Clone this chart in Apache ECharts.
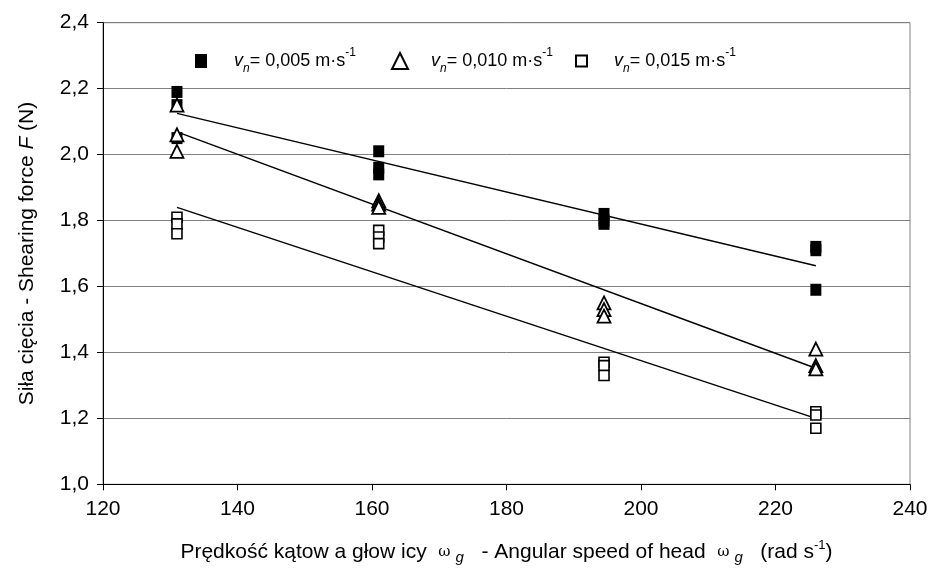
<!DOCTYPE html>
<html><head><meta charset="utf-8">
<script src="https://cdn.jsdelivr.net/npm/echarts@6/dist/echarts.min.js"></script>
<style>html,body{margin:0;padding:0;background:#fff}#c{width:932px;height:574px}</style>
</head><body><div id="c"></div>
<script>
// ---- data ----
const seriesNames = ['v005', 'v010', 'v015'];
const xValues = [131,131,131, 161,161,161, 194.5,194.5,194.5, 226,226,226];
const filledY = [2.19,2.15,2.05, 2.01,1.96,1.94, 1.82,1.80,1.79, 1.72,1.71,1.59];
const triY    = [2.15,2.06,2.01, 1.86,1.85,1.84, 1.55,1.53,1.51, 1.41,1.36,1.35];
const openY   = [1.81,1.79,1.76, 1.77,1.75,1.73, 1.37,1.36,1.33, 1.22,1.21,1.17];
const trendX = [131, 226];
const trendFilled = [2.125, 1.663];
const trendTri    = [2.069, 1.352];
const trendOpen   = [1.840, 1.200];
const xMin = 120, xMax = 240, xStep = 20;
const yMin = 1.0, yMax = 2.4, yStep = 0.2;

const FONT = 'Liberation Sans, Arial, sans-serif';
const pair = (xs, ys) => xs.map((x, i) => [x, ys[i]]);

const legendRich = {
  v: {fontFamily: FONT, fontSize: 18, fontStyle: 'italic', color: '#000', lineHeight: 28, verticalAlign: 'middle'},
  n: {fontFamily: FONT, fontSize: 12, fontStyle: 'italic', color: '#000', lineHeight: 12, verticalAlign: 'bottom'},
  t: {fontFamily: FONT, fontSize: 18, color: '#000', lineHeight: 28, verticalAlign: 'middle'},
  s: {fontFamily: FONT, fontSize: 12, color: '#000', lineHeight: 14, verticalAlign: 'top'}
};
const legendText = {
  v005: '{v|v}{n|n}{t|= 0,005 m·s}{s|-1}',
  v010: '{v|v}{n|n}{t|= 0,010 m·s}{s|-1}',
  v015: '{v|v}{n|n}{t|= 0,015 m·s}{s|-1}'
};
function mkLegend(name, left, w, h, icon, gap) {
  return {
    data: [{name: name, icon: icon}],
    left: left, top: 42, itemWidth: w, itemHeight: h, itemGap: 0,
    selectedMode: false,
    formatter: n => legendText[n],
    textStyle: {rich: legendRich, padding: [0, 0, 0, gap]}
  };
}

const chart = echarts.init(document.getElementById('c'), null, {renderer: 'canvas'});
chart.setOption({
  animation: false,
  backgroundColor: '#fff',
  grid: {left: 103, right: 22, top: 22.7, bottom: 89.7, show: true, borderColor: '#808080', borderWidth: 1},
  legend: [
    mkLegend('v005', 190, 12, 14, 'rect', 22),
    mkLegend('v010', 386, 16, 16, 'triangle', 18),
    mkLegend('v015', 570, 11, 11, 'rect', 22)
  ],
  xAxis: {
    type: 'value', min: xMin, max: xMax, interval: xStep,
    axisLine: {show: true, onZero: false, lineStyle: {color: '#000', width: 1}},
    axisTick: {show: true, inside: false, length: 6, lineStyle: {color: '#000'}},
    splitLine: {show: false},
    axisLabel: {color: '#000', fontFamily: FONT, fontSize: 21, margin: 14},
    name: 'Prędkość kątow a głow icy  {w|ω}{g|g}{a|   - Angular speed of head  }{w|ω}{g|g}{a|   (rad s}{s|-1}{a|)}',
    nameLocation: 'middle', nameGap: 55,
    nameTextStyle: {
      color: '#000', fontFamily: FONT, fontSize: 21, lineHeight: 26,
      rich: {
        a: {fontFamily: FONT, fontSize: 21, color: '#000', lineHeight: 26},
        w: {fontFamily: 'DejaVu Serif, serif', fontSize: 15, color: '#000', lineHeight: 26},
        g: {fontFamily: FONT, fontSize: 15, fontStyle: 'italic', color: '#000', lineHeight: 14, verticalAlign: 'bottom', padding: [0, 0, 0, 5]},
        s: {fontFamily: FONT, fontSize: 13, color: '#000', lineHeight: 14, verticalAlign: 'top'}
      }
    }
  },
  yAxis: {
    type: 'value', min: yMin, max: yMax, interval: yStep,
    axisLine: {show: true, onZero: false, lineStyle: {color: '#000', width: 1}},
    axisTick: {show: true, inside: false, length: 6, lineStyle: {color: '#000'}},
    splitLine: {show: true, lineStyle: {color: '#808080', width: 1}},
    axisLabel: {color: '#000', fontFamily: FONT, fontSize: 21, margin: 14,
      formatter: v => v.toFixed(1).replace('.', ',')},
    name: '{a|Siła cięcia - Shearing force }{b|F}{a| (N)}',
    nameLocation: 'middle', nameGap: 65, nameRotate: 90,
    nameTextStyle: {
      color: '#000', fontFamily: FONT, fontSize: 21,
      rich: {
        a: {fontFamily: FONT, fontSize: 21, color: '#000'},
        b: {fontFamily: FONT, fontSize: 21, fontStyle: 'italic', color: '#000'}
      }
    }
  },
  series: [
    {name: 'v005', type: 'scatter', symbol: 'rect', symbolSize: [11, 12], z: 3,
     itemStyle: {color: '#000', opacity: 1}, data: pair(xValues, filledY)},
    {name: 'v010', type: 'scatter', symbol: 'triangle', symbolSize: [13, 13], z: 4,
     itemStyle: {color: '#fff', borderColor: '#000', borderWidth: 1.8, opacity: 1}, data: pair(xValues, triY)},
    {name: 'v015', type: 'scatter', symbol: 'rect', symbolSize: [10, 10], z: 4,
     itemStyle: {color: '#fff', borderColor: '#000', borderWidth: 1.6, opacity: 1}, data: pair(xValues, openY)},
    {name: 't1', type: 'line', symbol: 'none', z: 2, lineStyle: {color: '#000', width: 1.5},
     data: pair(trendX, trendFilled)},
    {name: 't2', type: 'line', symbol: 'none', z: 2, lineStyle: {color: '#000', width: 1.5},
     data: pair(trendX, trendTri)},
    {name: 't3', type: 'line', symbol: 'none', z: 2, lineStyle: {color: '#000', width: 1.5},
     data: pair(trendX, trendOpen)}
  ]
});
</script></body></html>
